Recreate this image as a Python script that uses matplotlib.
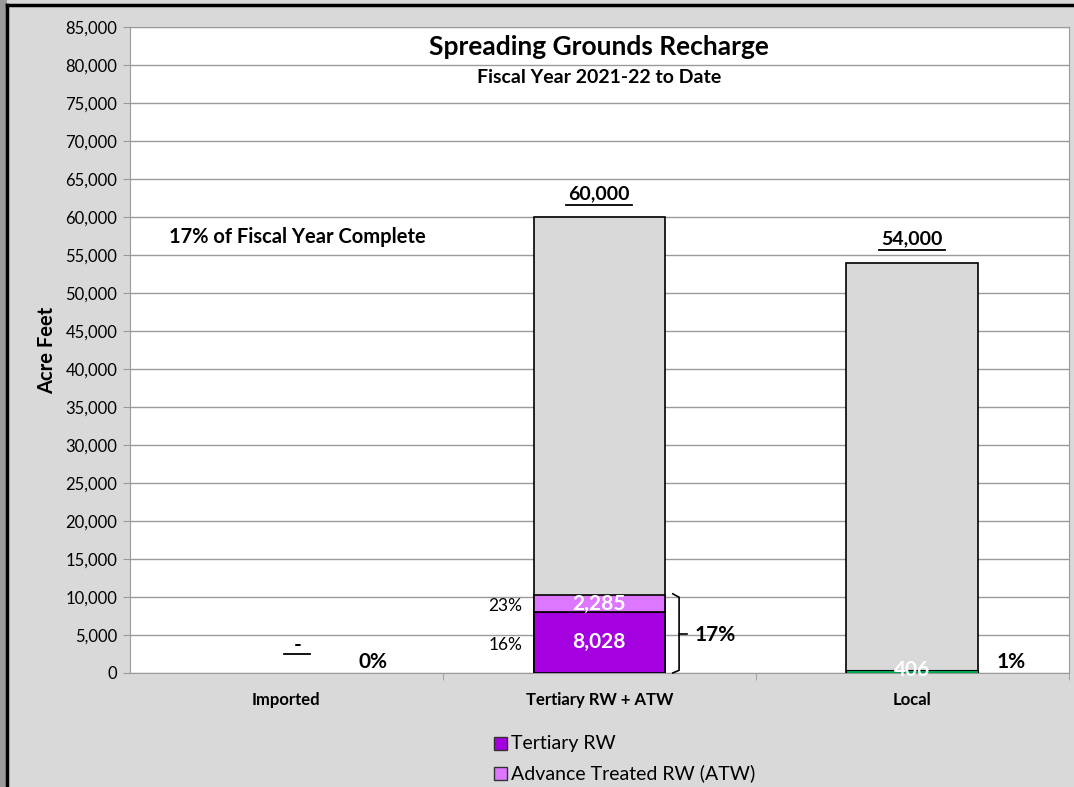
import numpy as np
import matplotlib.pyplot as plt
from matplotlib.lines import Line2D
from matplotlib.patches import Rectangle

plt.rcParams['font.family'] = ['Lato', 'DejaVu Sans']

# data
categories = ['Imported', 'Tertiary RW + ATW', 'Local']
targets = [0, 60000, 54000]
tertiary = [0, 8028, 0]
atw = [0, 2285, 0]
local = [0, 0, 406]
pct_labels = ['0%', '17%', '1%']
seg_pct = ['16%', '23%']

purple = '#a500e0'
violet = '#dd77ff'
green = '#00b050'
gray = '#d9d9d9'

fig = plt.figure(figsize=(10.74, 7.87), dpi=100)
fig.patch.set_facecolor(gray)
ax = fig.add_axes([0.121, 0.1449, 0.874, 0.8208])
ax.set_facecolor('white')

x = np.arange(len(categories))
w = 0.42


def nz(vals):
    # only bars with a value, so empty ones leave no edge line
    idx = [i for i, v in enumerate(vals) if v > 0]
    return x[idx], [vals[i] for i in idx], idx


xi, v, _ = nz(targets)
ax.bar(xi, v, w, color=gray, edgecolor='black', linewidth=1.2, zorder=2)
xi, v, idx = nz(tertiary)
ax.bar(xi, v, w, color=purple, edgecolor='black', linewidth=1.2, zorder=3)
xi, v, idx = nz(atw)
ax.bar(xi, v, w, bottom=[tertiary[i] for i in idx], color=violet,
       edgecolor='black', linewidth=1.2, zorder=3)
xi, v, _ = nz(local)
ax.bar(xi, v, w, color=green, edgecolor='black', linewidth=0.8, zorder=3)

ax.set_xlim(-0.5, 2.5)
ax.set_ylim(0, 85000)
ax.set_yticks(np.arange(0, 85001, 5000))
ax.set_yticklabels([f'{t:,}' for t in range(0, 85001, 5000)], fontsize=12)
ax.yaxis.grid(True, color='#9a9a9a', linewidth=1.0, zorder=0)
ax.set_axisbelow(True)
ax.set_xticks(x)
ax.set_xticklabels(categories, fontsize=12, fontweight='bold')
ax.set_xticks([0.5, 1.5, 2.5], minor=True)
ax.tick_params(axis='x', which='major', length=0, pad=14)
ax.tick_params(axis='x', which='minor', length=5, color='#9a9a9a')
ax.tick_params(axis='y', length=5, color='#9a9a9a', pad=4)
for s in ax.spines.values():
    s.set_color('#9a9a9a')
ax.set_ylabel('Acre Feet', fontsize=14.5, fontweight='bold', labelpad=6)

# titles
ax.text(1.0, 82400, 'Spreading Grounds Recharge', ha='center', va='center',
        fontsize=19, fontweight='bold')
ax.text(1.0, 78400, 'Fiscal Year 2021-22 to Date', ha='center', va='center',
        fontsize=14, fontweight='bold')
ax.text(-0.375, 57400, '17% of Fiscal Year Complete', ha='left', va='center',
        fontsize=14.5, fontweight='bold')

# target labels (underlined)
for xc, t in zip(x, targets):
    if t > 0:
        ax.text(xc, t + 3100, f'{t:,}', ha='center', va='center', fontsize=14, fontweight='bold')
        ax.plot([xc - 0.105, xc + 0.105], [t + 1600, t + 1600], color='black', lw=1.3)
ax.text(0.035, 3700, '-', ha='center', va='center', fontsize=15, fontweight='bold')
ax.plot([-0.007, 0.077], [2500, 2500], color='black', lw=1.3)
ax.text(0.0, 250, '-', ha='center', va='center', fontsize=9, color='white', fontweight='bold', zorder=5)

# segment labels
ax.text(1, tertiary[1] / 2, f'{tertiary[1]:,}', ha='center', va='center',
        fontsize=15, fontweight='bold', color='white', zorder=5)
ax.text(1, tertiary[1] + atw[1] / 2 - 100, f'{atw[1]:,}', ha='center', va='center',
        fontsize=15, fontweight='bold', color='white', zorder=5)
ax.text(2, 400, f'{local[2]:,}', ha='center', va='center',
        fontsize=15, fontweight='bold', color='white', zorder=5)
ax.text(0.755, 3700, seg_pct[0], ha='right', va='center', fontsize=12.5)
ax.text(0.755, 8800, seg_pct[1], ha='right', va='center', fontsize=12.5)

# percent of target
ax.text(0.276, 1450, pct_labels[0], ha='center', va='center', fontsize=15, fontweight='bold')
ax.text(1.37, 5000, pct_labels[1], ha='center', va='center', fontsize=15, fontweight='bold')
ax.text(2.317, 1450, pct_labels[2], ha='center', va='center', fontsize=15, fontweight='bold')

# brace
top = tertiary[1] + atw[1]
bx = 1.255
ax.plot([bx - 0.02, bx, bx, bx - 0.02], [top + 100, top - 350, 350, 0],
        color='black', lw=1.2, zorder=4, clip_on=False)
ax.plot([bx, bx + 0.025], [5100, 5100], color='black', lw=1.2, zorder=4)

# legend
fig.patches.append(Rectangle((494 / 1074, 1 - 750 / 787), 13 / 1074, 13 / 787,
                             transform=fig.transFigure, facecolor=purple,
                             edgecolor='#333333', lw=1))
fig.patches.append(Rectangle((494 / 1074, 1 - 780 / 787), 13 / 1074, 13 / 787,
                             transform=fig.transFigure, facecolor=violet,
                             edgecolor='#333333', lw=1))
fig.text(511 / 1074, 1 - 743 / 787, 'Tertiary RW', ha='left', va='center', fontsize=14)
fig.text(511 / 1074, 1 - 773 / 787, 'Advance Treated RW (ATW)', ha='left', va='center', fontsize=14)

# frame of the screenshot
fig.patches.append(Rectangle((0, 0), 7 / 1074, 1, transform=fig.transFigure,
                             facecolor='#9a9a9a', edgecolor='none'))
fig.add_artist(Line2D([7 / 1074, 1], [1 - 5 / 787, 1 - 5 / 787], color='black', lw=2.5))
fig.add_artist(Line2D([7 / 1074, 7 / 1074], [0, 1 - 5 / 787], color='black', lw=2.5))

fig.savefig('out.png', dpi=100, facecolor=fig.get_facecolor())
